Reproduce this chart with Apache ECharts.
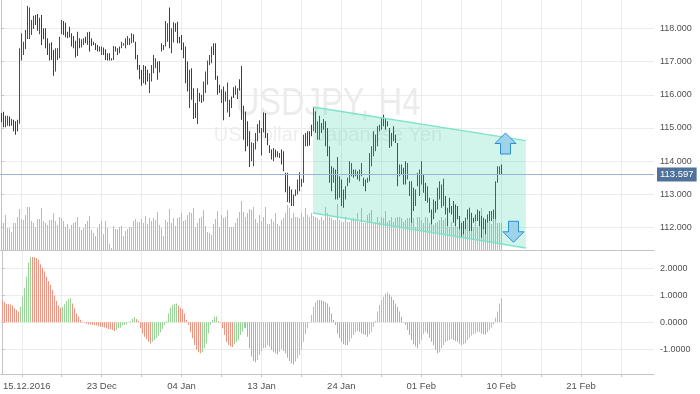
<!DOCTYPE html>
<html><head><meta charset="utf-8">
<script src="https://cdn.jsdelivr.net/npm/echarts@6/dist/echarts.min.js"></script>
<style>html,body{margin:0;padding:0;background:#fff}#c{width:700px;height:394px}</style>
</head><body><div id="c"></div>
<script>
// ---- data ----
const high = [
115.45,115.49,115.37,115.37,115.35,115.28,115.25,115.20,115.25,117.40,117.85,117.60,117.95,118.67,118.63,118.25,118.38,118.40,118.43,118.32,118.40,118.00,118.00,117.70,117.55,117.58,117.35,117.40,117.40,117.75,118.25,118.22,118.17,117.90,118.05,117.85,
117.77,117.63,117.90,117.70,117.67,117.70,117.75,117.88,117.90,117.70,117.60,117.55,117.50,117.45,117.45,117.42,117.37,117.25,117.25,117.10,117.47,117.45,117.40,117.45,117.60,117.55,117.70,117.77,117.70,117.85,117.82,117.60,117.20,116.90,116.75,116.90,
116.87,116.75,116.65,116.90,117.20,117.10,117.00,117.02,117.55,117.50,118.22,118.15,118.63,118.00,118.18,118.15,118.20,117.75,117.80,117.57,117.45,117.00,116.75,116.80,116.20,115.75,116.20,116.05,116.00,116.40,116.70,117.03,117.20,117.45,117.55,117.55,
116.57,116.30,116.17,116.25,116.10,116.37,115.85,115.95,116.23,116.27,116.20,116.47,116.87,115.67,115.50,115.20,114.90,114.57,114.55,114.85,115.12,115.23,115.00,115.47,115.45,114.85,114.48,114.35,114.40,114.35,114.30,114.25,114.35,114.30,113.65,113.65,
113.25,113.15,113.00,113.15,113.45,113.67,113.47,114.80,114.85,114.90,114.90,115.10,115.63,115.50,115.20,115.37,115.15,115.27,115.20,115.00,114.45,113.85,113.80,113.75,114.13,113.55,113.45,113.15,113.25,113.50,114.00,113.95,113.75,113.75,113.70,113.75,
113.95,113.50,113.45,113.50,114.25,114.45,114.90,114.80,115.05,115.10,115.30,115.40,115.30,115.20,115.00,114.85,115.05,114.80,114.55,113.90,113.90,113.80,114.00,113.95,113.40,113.40,113.20,113.15,113.65,113.75,114.00,113.60,113.35,113.25,112.90,112.55,
112.85,112.80,113.20,113.40,113.30,113.47,112.95,112.60,112.90,112.65,112.80,112.70,112.65,112.35,112.15,112.20,112.30,112.55,112.60,112.45,112.30,112.40,112.55,112.50,112.35,112.30,112.25,112.40,112.50,112.50,112.55,113.40,113.85,113.85,113.90];
const low = [
115.17,115.02,115.02,115.07,115.05,115.07,114.90,114.80,114.90,115.13,117.03,117.20,117.38,117.68,117.68,117.80,117.98,118.10,117.93,117.82,117.50,117.67,117.40,117.20,117.03,117.05,116.57,116.70,117.05,117.10,117.82,117.80,117.73,117.70,117.73,117.45,
117.40,117.12,117.17,117.40,117.42,117.50,117.55,117.50,117.30,117.47,117.50,117.35,117.30,117.30,117.20,117.20,117.05,117.03,117.03,117.03,117.05,117.30,117.20,117.25,117.40,117.48,117.40,117.50,117.50,117.55,117.57,117.07,116.75,116.47,116.27,116.35,
116.30,116.40,116.05,116.40,116.65,116.80,116.45,116.67,117.30,117.35,117.45,117.60,117.40,117.25,117.57,117.90,117.55,117.55,117.35,117.10,116.35,116.10,115.60,115.85,115.27,115.30,115.12,115.80,115.75,115.80,116.05,116.30,116.90,116.95,117.20,116.45,
116.00,116.05,115.75,115.23,115.80,115.47,115.33,115.60,115.90,116.00,115.87,116.13,115.25,114.65,114.30,114.45,113.83,114.00,113.85,114.35,114.60,114.85,114.17,114.87,114.70,114.48,114.25,114.05,114.00,114.12,114.12,114.10,113.90,113.70,113.07,112.77,
112.75,112.65,112.65,112.95,113.00,113.10,113.23,113.35,114.45,114.45,114.47,114.75,114.90,114.85,114.65,114.65,114.85,114.95,114.45,114.15,113.35,113.10,113.35,112.85,112.85,112.90,112.65,112.60,112.85,113.25,113.35,113.55,113.50,113.55,113.45,113.40,
113.55,113.25,113.10,113.35,113.40,113.85,114.15,114.30,114.45,114.90,114.95,115.05,114.95,115.05,114.40,114.45,114.60,114.55,113.25,113.55,113.60,113.30,113.30,113.45,112.95,112.15,112.50,112.65,113.25,112.95,113.30,113.05,112.80,112.75,112.45,112.10,
112.25,112.45,112.55,112.85,112.60,112.65,112.40,112.05,112.45,112.40,112.15,112.05,112.25,111.95,111.70,111.80,111.95,112.25,111.90,111.90,112.15,112.20,112.20,112.05,111.70,111.95,111.80,112.15,112.20,112.20,112.27,112.25,113.35,113.60,113.60];
// 1 = rising bar, 0 = falling bar
const rising = [
0,0,1,1,0,1,0,0,0,1,1,1,1,1,1,1,1,0,0,1,0,0,0,0,1,0,0,1,1,1,1,0,0,0,0,0,
0,0,1,0,1,1,0,1,0,0,0,0,0,0,1,0,0,0,0,0,1,0,0,1,1,1,1,1,1,1,0,0,0,0,0,1,
0,0,1,1,1,1,0,1,0,1,1,1,0,1,1,0,0,0,0,0,0,0,1,0,0,0,1,0,1,1,1,1,1,1,0,0,
0,0,1,0,1,1,0,0,0,1,1,0,0,0,0,0,0,1,1,1,1,1,1,0,0,0,0,0,1,0,1,1,0,0,0,1,
0,0,1,1,1,1,1,1,1,0,0,0,1,0,1,1,0,1,0,0,0,0,1,0,1,1,0,0,1,1,1,1,0,1,0,1,
1,0,0,1,1,1,1,1,1,1,1,0,0,0,0,0,0,0,0,1,1,0,0,1,1,1,0,1,1,1,1,0,0,1,0,0,
1,0,1,1,1,1,0,1,0,0,0,0,0,0,1,0,1,1,1,0,0,1,1,0,0,1,0,1,1,1,1,1,1,1,0];
const volume = [
29,27,35,22,22,18,27,27,33,41,31,30,35,43,43,29,27,23,31,31,42,29,27,25,30,30,37,29,25,33,32,29,23,26,21,25,
27,28,33,23,20,22,26,29,34,20,17,14,22,26,29,16,29,22,6,2,24,21,21,23,24,14,19,21,23,23,29,31,28,28,31,27,
34,26,32,29,32,30,38,25,22,14,30,28,41,27,32,24,32,33,37,29,30,35,38,37,42,23,27,32,33,40,24,18,17,15,26,31,
39,23,35,32,33,40,23,23,23,27,32,38,49,38,33,37,41,40,43,31,27,35,29,33,43,26,26,31,28,37,26,24,30,32,37,45,
42,32,37,33,33,32,37,33,42,35,33,37,34,33,32,30,33,30,43,37,33,32,30,30,46,30,28,28,33,28,28,30,32,30,37,28,
42,27,27,35,37,40,27,28,33,28,33,32,39,28,30,33,28,32,33,33,32,28,30,32,32,28,32,23,33,33,30,27,33,32,27,28,
25,27,28,30,33,30,32,33,23,28,23,25,23,28,27,23,30,33,27,27,23,30,23,33,42,30,27,27,30,26,32,31,27,27,27];
const oscillator = [
0.83,0.74,0.69,0.67,0.66,0.62,0.52,0.46,0.40,0.58,0.95,1.28,1.69,2.22,2.43,2.42,2.41,2.38,2.31,2.15,
2.02,1.88,1.69,1.53,1.38,1.20,0.99,0.79,0.62,0.54,0.58,0.67,0.79,0.86,0.90,0.70,0.52,0.33,0.21,0.09,
0.02,-0.02,-0.05,-0.07,-0.08,-0.10,-0.11,-0.12,-0.14,-0.16,-0.17,-0.19,-0.22,-0.25,-0.26,-0.28,-0.32,-0.28,-0.22,-0.20,
-0.12,-0.10,-0.07,-0.02,0.05,0.12,0.20,0.12,0.05,-0.22,-0.41,-0.53,-0.63,-0.72,-0.78,-0.72,-0.65,-0.57,-0.49,-0.37,
-0.25,-0.10,0.05,0.33,0.54,0.64,0.68,0.70,0.62,0.54,0.49,0.33,0.09,-0.10,-0.37,-0.59,-0.84,-1.02,-1.11,-1.15,
-1.11,-0.96,-0.78,-0.41,-0.10,0.09,0.21,0.22,0.05,-0.02,-0.22,-0.47,-0.72,-0.84,-0.90,-0.91,-0.81,-0.72,-0.65,-0.47,
-0.35,-0.20,-0.22,-0.53,-0.96,-1.27,-1.43,-1.48,-1.40,-1.21,-1.06,-0.96,-0.94,-0.84,-0.90,-1.02,-1.09,-1.15,-1.19,-1.09,
-0.99,-1.06,-1.15,-1.31,-1.43,-1.52,-1.56,-1.46,-1.33,-1.21,-1.02,-0.72,-0.44,-0.22,0.02,0.27,0.58,0.74,0.84,0.83,
0.82,0.79,0.74,0.70,0.58,0.33,0.09,-0.10,-0.41,-0.59,-0.72,-0.81,-0.84,-0.85,-0.72,
-0.59,-0.47,-0.37,-0.32,-0.35,-0.41,-0.44,-0.47,-0.53,-0.44,-0.35,-0.16,0.05,0.40,0.64,0.83,0.95,1.07,1.11,1.04,
0.95,0.83,0.70,0.58,0.40,0.21,0.00,-0.10,-0.28,-0.47,-0.65,-0.81,-0.90,-0.96,-0.81,-0.65,-0.44,-0.35,-0.41,-0.57,
-0.72,-0.84,-1.02,-1.15,-1.11,-0.96,-0.84,-0.74,-0.69,-0.65,-0.62,-0.65,-0.69,-0.72,-0.78,-0.84,-0.81,-0.78,-0.65,-0.57,
-0.49,-0.44,-0.41,-0.37,-0.36,-0.41,-0.44,-0.45,-0.37,-0.28,-0.20,-0.07,0.17,0.40,0.70,0.89];
const dateTickIndex = [10,50,90,130,170,210,250,290];
const dateTickText  = ['15.12.2016','23 Dec','04 Jan','13 Jan','24 Jan','01 Feb','10 Feb','21 Feb'];
const gridIndexTicks = [10,30,50,70,90,110,130,150,170,190,210,230,250,270,290,310];
const priceTicks = [112,113,114,115,116,117,118];
const oscTicks = [-1,0,1,2];
const lastPrice = 113.597;
const channelX = [156, 262.4];
const channelTop = [115.63, 114.62];
const channelBottom = [112.44, 111.39];
const arrowX = [252.25, 256.25];
const arrowY = [114.85, 111.56];
const arrowDir = [1, -1];

// ---- chart ----
const UP='#2e5f2e', DOWN='#6e2a24', VOL='#8cc8ea', OSC_UP='#98d398', OSC_DN='#f19382';
const GRID='#ececec', AXIS='#c4c4c4', TXT='#505050', FONT='Liberation Sans, Arial, sans-serif';
const chart = echarts.init(document.getElementById('c'), null, {renderer:'canvas'});
const ohlcData = high.map((h,i)=>[i,h,low[i],rising[i]]);
const volData = volume.map((v,i)=>[i,v]);
const oscData = oscillator.map((v,i)=>[i,v,(i>0&&v>oscillator[i-1])?1:0]);
const labelMap = {}; dateTickIndex.forEach((k,j)=>labelMap[k]=dateTickText[j]);

const xBase = {type:'value', min:-0.5, max:326.5};
chart.setOption({
  animation:false,
  grid:[{left:0, top:0, width:654, height:250},{left:0, top:251, width:654, height:123}],
  graphic:[
    {type:'text', z:-10, x:328, y:105, scaleX:0.86, style:{text:'USDJPY, H4', x:0, y:0, align:'center', verticalAlign:'middle', font:'38px '+FONT, fill:'#ececec'}},
    {type:'text', z:-10, x:328, y:135, style:{text:'US Dollar / Japanese Yen', x:0, y:0, align:'center', verticalAlign:'middle', font:'20px '+FONT, fill:'#eeeeee'}}
  ],
  xAxis:[
    Object.assign({gridIndex:0, axisLine:{show:true,onZero:false,lineStyle:{color:AXIS}}, axisTick:{show:false, customValues:gridIndexTicks}, axisLabel:{show:false}, splitLine:{show:true,lineStyle:{color:GRID}}}, xBase),
    Object.assign({gridIndex:1, axisLine:{show:true,onZero:false,lineStyle:{color:AXIS}}, axisTick:{show:true,length:3,customValues:gridIndexTicks,lineStyle:{color:AXIS}},
      axisLabel:{customValues:dateTickIndex, margin:7, color:TXT, fontSize:9.5, fontFamily:FONT,
        formatter:v=> v===dateTickIndex[0] ? '{a|'+labelMap[v]+'}' : labelMap[v],
        rich:{a:{padding:[0,0,0,10], fontSize:9.5, fontFamily:FONT, color:TXT}}},
      splitLine:{show:true,lineStyle:{color:GRID}}}, xBase)
  ],
  yAxis:[
    {gridIndex:0, type:'value', position:'right', min:111.328, max:118.853,
      axisLine:{show:true,lineStyle:{color:AXIS}}, axisTick:{show:true,length:3,customValues:priceTicks,lineStyle:{color:AXIS}},
      axisLabel:{customValues:priceTicks, formatter:v=>v.toFixed(3), margin:6, color:TXT, fontSize:9, fontFamily:FONT},
      splitLine:{show:true,lineStyle:{color:GRID}}},
    {gridIndex:0, type:'value', min:0, max:250, show:false},
    {gridIndex:1, type:'value', position:'right', min:-1.914, max:2.642,
      axisLine:{show:true,lineStyle:{color:AXIS}}, axisTick:{show:true,length:3,customValues:oscTicks,lineStyle:{color:AXIS}},
      axisLabel:{customValues:oscTicks, formatter:v=>v.toFixed(4), margin:6, color:TXT, fontSize:9, fontFamily:FONT},
      splitLine:{show:true,lineStyle:{color:GRID}}}
  ],
  series:[
    {type:'custom', name:'volume', xAxisIndex:0, yAxisIndex:1, z:2, data:volData,
      renderItem:(p,api)=>{const a=api.coord([api.value(0),0]), b=api.coord([api.value(0),api.value(1)]);
        return {type:'rect', shape:{x:Math.round(a[0]), y:b[1], width:1, height:a[1]-b[1]}, style:{fill:VOL}};}},
    {type:'custom', name:'price', xAxisIndex:0, yAxisIndex:0, z:3, data:ohlcData,
      renderItem:(p,api)=>{const a=api.coord([api.value(0),api.value(1)]), b=api.coord([api.value(0),api.value(2)]);
        return {type:'rect', shape:{x:Math.round(a[0]), y:a[1], width:1, height:Math.max(1,b[1]-a[1])}, style:{fill:api.value(3)?UP:DOWN}};}},
    {type:'custom', name:'channel', xAxisIndex:0, yAxisIndex:0, z:4, data:[[channelX[0],channelTop[0],channelBottom[0],channelX[1],channelTop[1],channelBottom[1]]],
      renderItem:(p,api)=>{
        const t0=api.coord([api.value(0),api.value(1)]), b0=api.coord([api.value(0),api.value(2)]);
        const t1=api.coord([api.value(3),api.value(4)]), b1=api.coord([api.value(3),api.value(5)]);
        return {type:'group', children:[
          {type:'polygon', shape:{points:[t0,t1,b1,b0]}, style:{fill:'rgba(40,205,160,0.21)'}},
          {type:'line', shape:{x1:t0[0],y1:t0[1],x2:t1[0],y2:t1[1]}, style:{stroke:'#7fe3c9', lineWidth:1.5}},
          {type:'line', shape:{x1:b0[0],y1:b0[1],x2:b1[0],y2:b1[1]}, style:{stroke:'#7fe3c9', lineWidth:1.5}}
        ]};}},
    {type:'custom', name:'arrows', xAxisIndex:0, yAxisIndex:0, z:6, data:arrowX.map((x,i)=>[x,arrowY[i],arrowDir[i]]),
      renderItem:(p,api)=>{const c=api.coord([api.value(0),api.value(1)]); const d=api.value(2);
        const s=[[0,0],[10.5,10.5],[5,10.5],[5,21],[-5,21],[-5,10.5],[-10.5,10.5]];
        return {type:'polygon', shape:{points:s.map(q=>[c[0]+q[0], c[1]+q[1]*d])}, style:{fill:'#9fd3ea', stroke:'#2b8fd6', lineWidth:1}};}},
    {type:'custom', name:'oscillator', xAxisIndex:1, yAxisIndex:2, z:2, data:oscData,
      renderItem:(p,api)=>{const a=api.coord([api.value(0),0]), b=api.coord([api.value(0),api.value(1)]);
        const y=Math.min(a[1],b[1]), h=Math.abs(a[1]-b[1]);
        return {type:'rect', shape:{x:Math.round(a[0]), y:y, width:1, height:Math.max(h,0.5)}, style:{fill:api.value(2)?OSC_UP:OSC_DN}};}},
    {type:'line', name:'last', xAxisIndex:0, yAxisIndex:0, data:[], z:5,
      markLine:{silent:true, symbol:'none', animation:false,
        lineStyle:{color:'#9db2d8', width:1, type:'solid'},
        label:{position:'end', formatter:lastPrice.toFixed(3), distance:3, backgroundColor:'#4f729a', color:'#fff', padding:[2,3,2,3], fontSize:9.5, fontFamily:FONT},
        data:[{yAxis:lastPrice}]}}
  ]
});
</script></body></html>
